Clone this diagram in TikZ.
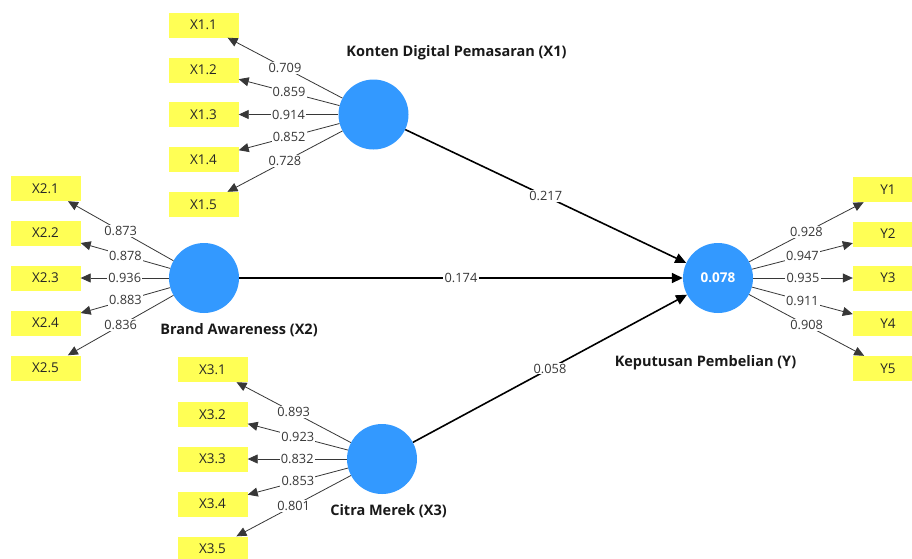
\documentclass[tikz,border=0pt]{standalone}
\usepackage{fontspec}
\setmainfont{Open Sans}
\usetikzlibrary{arrows.meta}
\definecolor{lvblue}{RGB}{51,153,255}
\definecolor{indyellow}{RGB}{255,255,85}
\definecolor{wgray}{RGB}{55,55,55}
\tikzset{
  lv/.style={circle, fill=lvblue, minimum size=70pt, inner sep=0pt},
  ind/.style={fill=indyellow, minimum width=70pt, minimum height=25pt, inner sep=0pt,
    font=\fontsize{13.5}{15}\selectfont, text=black!85},
  lvlabel/.style={font=\fontsize{14.5}{16}\selectfont\bfseries, text=black!90},
  outer/.style={draw=wgray, line width=0.8pt, -{Triangle[length=10pt,width=9pt]}},
  inner/.style={draw=black, line width=1.6pt, -{Triangle[length=11pt,width=10pt]}},
  wt/.style={fill=white, inner sep=1.2pt, text=wgray, font=\fontsize{12.8}{14}\selectfont}
}
\begin{document}
\begin{tikzpicture}[x=1pt,y=-1pt]
\fill[white] (0,0) rectangle (912,558);
\useasboundingbox (0,0) rectangle (912,558);
% latent variables
\node[lv] (X1) at (373.5,114.5) {};
\node[lv] (X2) at (204,278) {};
\node[lv] (X3) at (382,459) {};
\node[lv, font=\fontsize{13.5}{15}\selectfont\bfseries, text=white] (Y) at (718,278) {0.078};
% labels
\node[lvlabel] (L1) at (456.5,53) {Konten Digital Pemasaran (X1)};
\node[lvlabel] (L2) at (239,330) {Brand Awareness (X2)};
\node[lvlabel] (L3) at (388.5,511) {Citra Merek (X3)};
\node[lvlabel] (L4) at (705.5,363) {Keputusan Pembelian (Y)};
% indicators X1
\node[ind] (X11) at (203.5,25) {X1.1};
\node[ind] (X12) at (203.5,70) {X1.2};
\node[ind] (X13) at (203.5,114.5) {X1.3};
\node[ind] (X14) at (203.5,159.5) {X1.4};
\node[ind] (X15) at (203.5,204.5) {X1.5};
% indicators X2
\node[ind] (X21) at (45.5,188.5) {X2.1};
\node[ind] (X22) at (45.5,233) {X2.2};
\node[ind] (X23) at (45.5,278) {X2.3};
\node[ind] (X24) at (45.5,323) {X2.4};
\node[ind] (X25) at (45.5,368) {X2.5};
% indicators X3
\node[ind] (X31) at (212.5,369.5) {X3.1};
\node[ind] (X32) at (212.5,414.5) {X3.2};
\node[ind] (X33) at (212.5,459) {X3.3};
\node[ind] (X34) at (212.5,504) {X3.4};
\node[ind] (X35) at (212.5,549) {X3.5};
% indicators Y
\node[ind] (Y1) at (888,189.5) {Y1};
\node[ind] (Y2) at (888,234) {Y2};
\node[ind] (Y3) at (888,278) {Y3};
\node[ind] (Y4) at (888,323.5) {Y4};
\node[ind] (Y5) at (888,368.5) {Y5};
% outer loadings
\draw[outer] (X1) -- node[wt]{0.709} (X11);
\draw[outer] (X1) -- node[wt]{0.859} (X12);
\draw[outer] (X1) -- node[wt]{0.914} (X13);
\draw[outer] (X1) -- node[wt]{0.852} (X14);
\draw[outer] (X1) -- node[wt]{0.728} (X15);
\draw[outer] (X2) -- node[wt]{0.873} (X21);
\draw[outer] (X2) -- node[wt]{0.878} (X22);
\draw[outer] (X2) -- node[wt]{0.936} (X23);
\draw[outer] (X2) -- node[wt]{0.883} (X24);
\draw[outer] (X2) -- node[wt]{0.836} (X25);
\draw[outer] (X3) -- node[wt]{0.893} (X31);
\draw[outer] (X3) -- node[wt]{0.923} (X32);
\draw[outer] (X3) -- node[wt]{0.832} (X33);
\draw[outer] (X3) -- node[wt]{0.853} (X34);
\draw[outer] (X3) -- node[wt]{0.801} (X35);
\draw[outer] (Y) -- node[wt]{0.928} (Y1);
\draw[outer] (Y) -- node[wt]{0.947} (Y2);
\draw[outer] (Y) -- node[wt]{0.935} (Y3);
\draw[outer] (Y) -- node[wt]{0.911} (Y4);
\draw[outer] (Y) -- node[wt]{0.908} (Y5);
% path coefficients
\draw[inner] (X1) -- node[wt]{0.217} (Y);
\draw[inner] (X2) -- node[wt]{0.174} (Y);
\draw[inner] (X3) -- node[wt]{0.058} (Y);
\end{tikzpicture}
\end{document}
